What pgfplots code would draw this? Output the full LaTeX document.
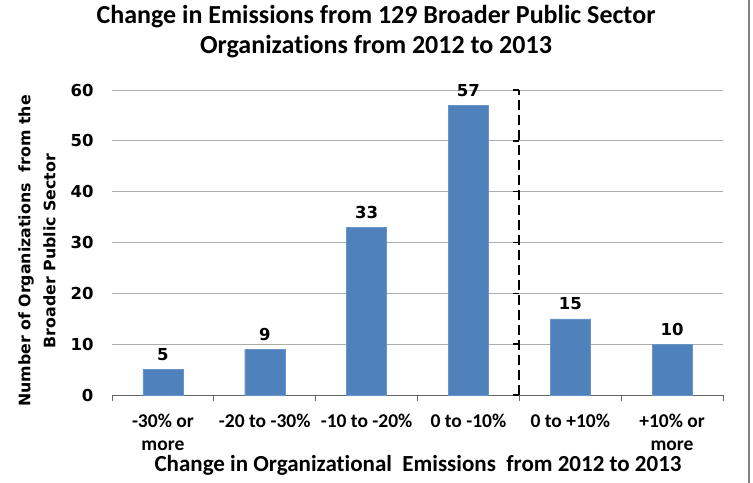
\documentclass[border=0pt]{standalone}
\usepackage{fontspec}
\setmainfont{Carlito}[Ligatures=NoCommon]
\newfontfamily\dv{DejaVu Sans}
\usepackage{pgfplots}
\pgfplotsset{compat=1.18}
\definecolor{barblue}{HTML}{4F81BD}
\begin{document}
\begin{tikzpicture}
\path[use as bounding box] (-112bp,-88bp) rectangle (641bp,395bp);
\begin{axis}[
  at={(0,0)}, anchor=south west,
  scale only axis, width=611bp, height=305bp,
  xmin=-0.5, xmax=5.5, ymin=0, ymax=60,
  axis x line*=bottom, axis y line*=left,
  y axis line style={draw=none},
  x axis line style={draw=gray!80!black, line width=0.8bp, -},
  ytick={0,10,...,60},
  ymajorgrids, grid style={draw=gray!65, line width=0.8bp},
  major tick length=0pt,
  /pgf/number format/assume math mode=true,
  yticklabel style={font=\dv\bfseries\fontsize{16.5bp}{18bp}\selectfont, anchor=east, xshift=-15bp},
  xtick={0,...,5},
  xticklabels={{-30\% or\\more},{-20 to -30\%},{-10 to -20\%},{0 to -10\%},{0 to +10\%},{+10\% or\\more}},
  xticklabel style={font=\bfseries\fontsize{19.5bp}{23bp}\selectfont, align=center, anchor=north, yshift=-16bp},
  extra x ticks={-0.5,0.5,...,5.5},
  extra x tick labels={},
  extra x tick style={major tick length=6bp, tick align=outside, tick style={draw=gray!80!black, line width=0.8bp}, grid=none},
  clip=false,
]
\addplot[ybar, bar width=40bp, fill=barblue, draw=barblue!85!white,
  nodes near coords,
  every node near coord/.append style={font=\dv\bfseries\fontsize{16.5bp}{18bp}\selectfont, anchor=south, yshift=5bp, black}]
  coordinates {(0,5) (1,9) (2,33) (3,57) (4,15) (5,10)};
\addplot[black, line width=2bp, dash pattern=on 10bp off 5bp] coordinates {(3.5,0) (3.5,60)};
\pgfplotsinvokeforeach{0,10,20,30,40,50,60}{
  \draw[black, line width=1.4bp] (axis cs:3.5,#1) -- ([xshift=-6bp]axis cs:3.5,#1);
}
\end{axis}
\node[font=\bfseries\fontsize{26bp}{30bp}\selectfont, align=center] at (264bp,363bp)
  {Change in Emissions from 129 Broader Public Sector\\Organizations from 2012 to 2013};
\node[rotate=90, font=\dv\bfseries\fontsize{15.8bp}{25bp}\selectfont, align=center] at (-75bp,144bp)
  {Number of Organizations~ from the\\Broader Public Sector};
\node[font=\bfseries\fontsize{23bp}{26bp}\selectfont] at (306bp,-70bp)
  {Change in Organizational~ Emissions~ from 2012 to 2013};
\draw[gray, line width=1.5bp] (637bp,-88bp) -- (637bp,395bp);
\end{tikzpicture}
\end{document}
